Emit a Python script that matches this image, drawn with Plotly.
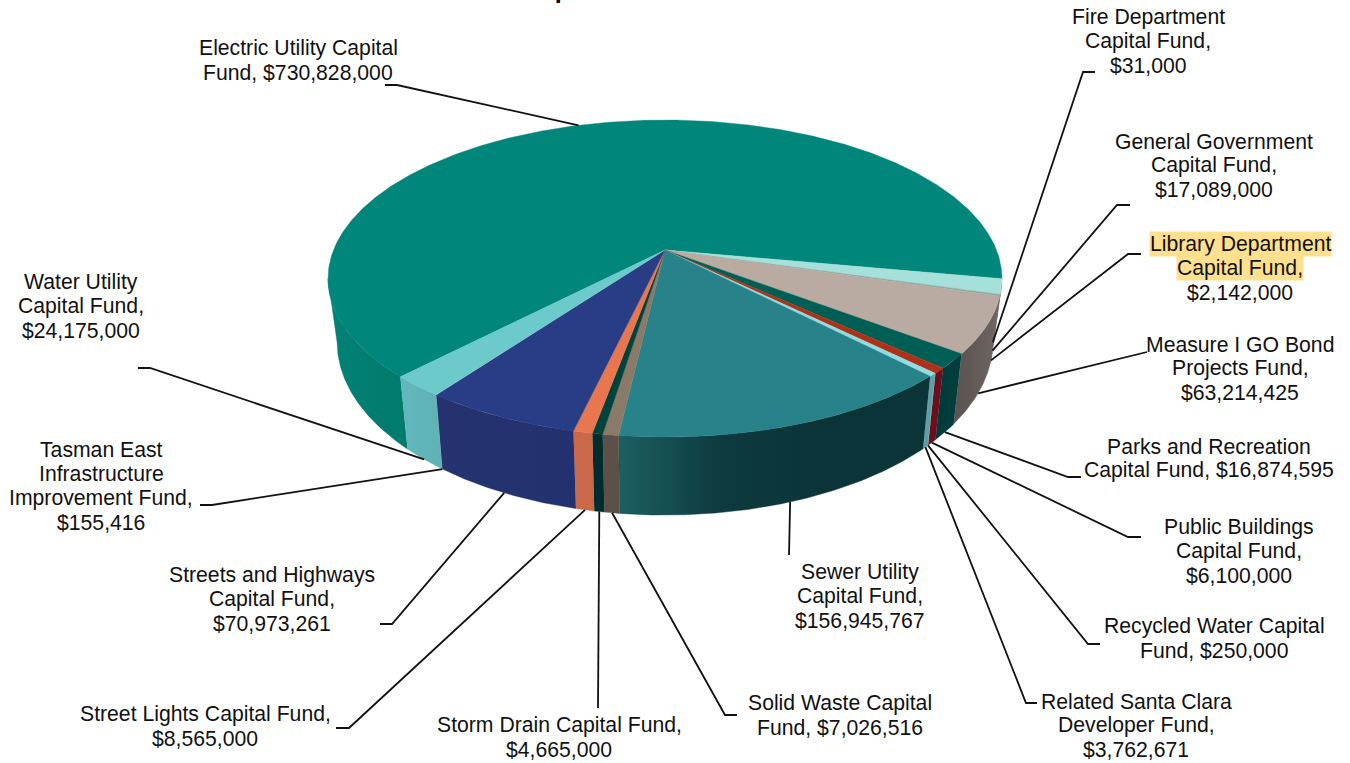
import numpy as np
import plotly.graph_objects as go

# Capital fund allocations, clockwise from the Electric Utility slice
funds = [
    "Electric Utility Capital Fund", "Fire Department Capital Fund",
    "General Government Capital Fund", "Library Department Capital Fund",
    "Measure I GO Bond Projects Fund", "Parks and Recreation Capital Fund",
    "Public Buildings Capital Fund", "Recycled Water Capital Fund",
    "Related Santa Clara Developer Fund", "Sewer Utility Capital Fund",
    "Solid Waste Capital Fund", "Storm Drain Capital Fund",
    "Street Lights Capital Fund", "Streets and Highways Capital Fund",
    "Tasman East Infrastructure Improvement Fund", "Water Utility Capital Fund",
]
amounts = [
    730828000, 31000, 17089000, 2142000, 63214425, 16874595, 6100000, 250000,
    3762671, 156945767, 7026516, 4665000, 8565000, 70973261, 155416, 24175000,
]
label_lines = [
    ["Electric Utility Capital", "Fund, $730,828,000"],
    ["Fire Department", "Capital Fund,", "$31,000"],
    ["General Government", "Capital Fund,", "$17,089,000"],
    ["Library Department", "Capital Fund,", "$2,142,000"],
    ["Measure I GO Bond", "Projects Fund,", "$63,214,425"],
    ["Parks and Recreation", "Capital Fund, $16,874,595"],
    ["Public Buildings", "Capital Fund,", "$6,100,000"],
    ["Recycled Water Capital", "Fund, $250,000"],
    ["Related Santa Clara", "Developer Fund,", "$3,762,671"],
    ["Sewer Utility", "Capital Fund,", "$156,945,767"],
    ["Solid Waste Capital", "Fund, $7,026,516"],
    ["Storm Drain Capital Fund,", "$4,665,000"],
    ["Street Lights Capital Fund,", "$8,565,000"],
    ["Streets and Highways", "Capital Fund,", "$70,973,261"],
    ["Tasman East", "Infrastructure", "Improvement Fund,", "$155,416"],
    ["Water Utility", "Capital Fund,", "$24,175,000"],
]

# Slice styling: top face colour, then evenly spaced wall gradient stops (left to right)
top_colors = [
    "#00867a", "#8fdcd6", "#a6e0da", "#8fa8a4", "#b9aba1", "#005f55", "#ad3219", "#dff4f2",
    "#8fdde0", "#28828a", "#8a7b69", "#00423c", "#e8774f", "#293d87", "#293d87", "#6ccaca",
]
wall_colors = [
    ("#008376", "#007a6c"), ("#7a8a86", "#6a6a66"), ("#6a6a66", "#6a6a66"), ("#66625e", "#66625e"),
    ("#5a524e", "#6e6662"), ("#003a3a", "#003f3e"), ("#6a0f1e", "#6a0f1e"), ("#8ccccc", "#8ccccc"),
    ("#5f9ea2", "#5f9ea2"), ("#1c6062", "#0d3a3e", "#0b3438", "#0b3438"), ("#5c5048", "#5c5048"), ("#002c2e", "#002c2e"),
    ("#cb6a4a", "#c96848"), ("#25326f", "#243170"), ("#243170", "#243170"), ("#62b8bc", "#5fb2b6"),
]

# Label placement: centre x, y of each line's middle
label_x = [298, 1148, 1214, 1240, 1240, 1209, 1239, 1214, 1136, 860, 840, 559, 205, 272, 101, 81]
label_y = [48, 17, 141, 244, 344, 446, 527, 626, 701, 572, 703, 725, 714, 575, 449, 282]
line_pitch = 24.4
font_px = 21.2

# Leader elbows: the outer stub of each leader line
leader_stub = [
    [(397, 85), (385, 85)], [(1083, 72), (1095, 72)], [(1117, 205), (1130, 205)],
    [(1128, 254), (1141, 254)], [(1147, 352)], [(1068, 477), (1081, 477)],
    [(1128, 537), (1141, 537)], [(1088, 644), (1100, 644)], [(1026, 703), (1037, 703)],
    [(789, 555)], [(725, 715), (737, 715)], [(598, 708)], [(349, 728), (336, 728)],
    [(392, 624), (380, 624)], [(212, 505), (200, 505)], [(150, 368), (138, 368)],
]

# Perspective projection of the pie's disc onto the page
CX, CY = 665.0, 250.0
A, B, K = 331.5, 153.4, 0.18
START_DEG = 134.0


def top_rim(theta):
    u, v = np.cos(theta), np.sin(theta)
    d = 1 - K * v
    return CX + A * u / d, CY + B * v / d


def bottom_rim(theta):
    x, y = top_rim(theta)
    return CX + 0.973 * (x - CX), y + 70 + 0.092 * (y - 350)


shares = np.array(amounts, dtype=float) / sum(amounts)
edges = np.radians(START_DEG + 360 * np.concatenate([[0], np.cumsum(shares)]))

fig = go.Figure()


def add_poly(xs, ys, colors, width):
    stops = [[k / (len(colors) - 1), c] for k, c in enumerate(colors)]
    fig.add_trace(go.Scatter(
        x=xs, y=ys, mode="lines", fill="toself",
        fillgradient=dict(type="horizontal", colorscale=stops),
        line=dict(color=colors[-1], width=width), hoverinfo="skip", showlegend=False,
    ))


# Walls first so the top faces sit over them; only the part of the rim in front
# of the widest points of the ellipse (where sin(theta) > K) faces the viewer
for i in range(len(amounts)):
    t = np.linspace(edges[i], edges[i + 1], max(3, int(np.degrees(edges[i + 1] - edges[i]) * 4)))
    visible = np.sin(t) > K
    runs = np.split(np.arange(len(t)), np.where(np.diff(visible.astype(int)) != 0)[0] + 1)
    for run in runs:
        if not visible[run[0]] or len(run) < 2:
            continue
        xt, yt = top_rim(t[run])
        xb, yb = bottom_rim(t[run])
        add_poly(np.r_[xt, xb[::-1]], np.r_[yt, yb[::-1]], wall_colors[i],
                 0.4 if shares[i] > 0.001 else 0)

# Top faces
for i in range(len(amounts)):
    t = np.linspace(edges[i], edges[i + 1], max(3, int(np.degrees(edges[i + 1] - edges[i]) * 2)))
    xt, yt = top_rim(t)
    add_poly(np.r_[CX, xt, CX], np.r_[CY, yt, CY], (top_colors[i], top_colors[i]),
             0.4 if shares[i] > 0.001 else 0)

# Leader lines run from the slice's middle on the rim out to the label
mids = (edges[:-1] + edges[1:]) / 2
for i, stub in enumerate(leader_stub):
    x0, y0 = top_rim(mids[i]) if np.sin(mids[i]) < 0 else bottom_rim(mids[i])
    fig.add_trace(go.Scatter(
        x=[x0] + [p[0] for p in stub], y=[y0] + [p[1] for p in stub],
        mode="lines", line=dict(color="#111111", width=1.8),
        hoverinfo="skip", showlegend=False,
    ))

# Labels, one annotation per line so the line pitch stays exact
annotations = []
for i, lines in enumerate(label_lines):
    for j, text in enumerate(lines):
        highlighted = funds[i].startswith("Library") and j < 2
        annotations.append(dict(
            x=label_x[i], y=label_y[i] + j * line_pitch, xref="x", yref="y",
            text=text, showarrow=False, xanchor="center", yanchor="middle",
            font=dict(family="Liberation Sans, Arial, sans-serif", size=font_px, color="#111111"),
            bgcolor="#ffe08f" if highlighted else None, borderpad=0,
        ))

# Chart title, sitting against the top edge of the page
annotations.append(dict(
    x=662, y=5, xref="x", yref="y", text="<b>Proposed Five-Year Total</b>",
    showarrow=False, xanchor="center", yanchor="bottom",
    font=dict(family="Liberation Sans, Arial, sans-serif", size=25, color="#000000"),
))

fig.update_layout(
    width=1350, height=763, margin=dict(l=0, r=0, t=0, b=0),
    paper_bgcolor="white", plot_bgcolor="white", showlegend=False,
    xaxis=dict(range=[0, 1350], visible=False, fixedrange=True),
    yaxis=dict(range=[763, 0], visible=False, fixedrange=True),
    annotations=annotations,
)
fig.write_html("out.html", config={"displayModeBar": False})
